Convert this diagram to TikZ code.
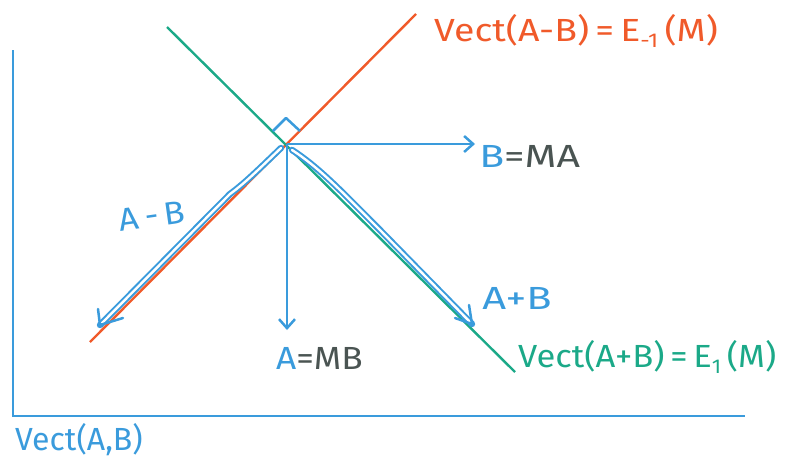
\documentclass[tikz,border=0pt]{standalone}
\usepackage{fontspec}
\setmainfont{Fira Sans}
\usetikzlibrary{arrows.meta,calc}
\definecolor{ored}{HTML}{F05A2A}
\definecolor{tgreen}{HTML}{1BA988}
\definecolor{pblue}{HTML}{3A9BDC}
\definecolor{dgray}{HTML}{4A5452}
\newcommand{\subtxt}[1]{\raisebox{-0.35ex}{\fontsize{20}{20}\selectfont #1}}
\tikzset{
  axis/.style={pblue,line width=2.6pt},
  eigline/.style={line width=2.4pt},
  vecarrow/.style={pblue,line width=2.5pt,-{Straight Barb[length=9pt,width=16pt,line width=2.5pt]}},
  outl/.style={pblue,line width=2pt,double=white,double distance=2.4pt,line cap=round},
  barb/.style={pblue,line width=2.5pt,line cap=round,line join=round},
  lbl/.style={inner sep=0pt,font=\fontsize{32}{32}\selectfont},
}
\begin{document}
\begin{tikzpicture}[x=1pt,y=-1pt]
\useasboundingbox (0,0) rectangle (789,464);
% axes
\coordinate (ytop) at (13,50);
\coordinate (orig) at (13,416);
\coordinate (xend) at (745,416);
\draw[axis] (ytop) -- (orig) -- (xend);
% eigen lines
\coordinate (r1) at (90,342);
\coordinate (r2) at (416,14);
\coordinate (g1) at (167,27);
\coordinate (g2) at (515,372);
\draw[eigline,ored] (r1) -- (r2);
\draw[eigline,tgreen] (g1) -- (g2);
% intersection
\coordinate (O) at (287,144);
% right angle marker
\coordinate (q1) at (273,131);
\coordinate (q2) at (286,118);
\coordinate (q3) at (300,131);
\draw[pblue,line width=2.5pt,line join=round] (q1) -- (q2) -- (q3);
% B = MA
\coordinate (Bt) at (475,144);
\draw[vecarrow] (O) -- (Bt);
\node[lbl,anchor=west,xscale=1.28] (Blbl) at (479,156) {\textcolor{pblue}{B}\textcolor{dgray}{=MA}};
% A = MB
\coordinate (At) at (287,330);
\draw[vecarrow] (O) -- (At);
\node[lbl,anchor=west,xscale=1.1] (Albl) at (276,358) {\textcolor{pblue}{A}\textcolor{dgray}{=MB}};
% A - B
\coordinate (ms1) at (281,148);
\coordinate (mt) at (100,325);
\draw[outl] (ms1) .. controls (258,170) and (245,183) .. (230,194) -- (mt);
\coordinate (mb1) at (98,309);
\coordinate (mb2) at (123,318);
\draw[barb] (mb1) -- (mt) -- (mb2);
\node[lbl,pblue,rotate=8,xscale=1.08] (AmB) at (152,216) {A\,-\,B};
% A + B
\coordinate (ps1) at (292,150);
\coordinate (pt) at (472,324);
\draw[outl] (ps1) .. controls (320,168) and (345,195) .. (380,230) -- (pt);
\coordinate (pb1) at (469,305);
\coordinate (pb2) at (455,318);
\draw[barb] (pb1) -- (pt) -- (pb2);
\node[lbl,pblue,xscale=1.3] (ApB) at (517,298) {A+B};
% labels
\node[lbl,ored,anchor=west,xscale=1.17] (Eneg) at (434,31) {Vect(A-B)\,=\,E\subtxt{-1}\,(M)};
\node[lbl,tgreen,anchor=west,xscale=1.08] (Epos) at (518,357) {Vect(A+B)\,=\,E\subtxt{1}\,(M)};
\node[lbl,pblue,anchor=west] (span) at (15,440) {Vect(A,B)};
\end{tikzpicture}
\end{document}
